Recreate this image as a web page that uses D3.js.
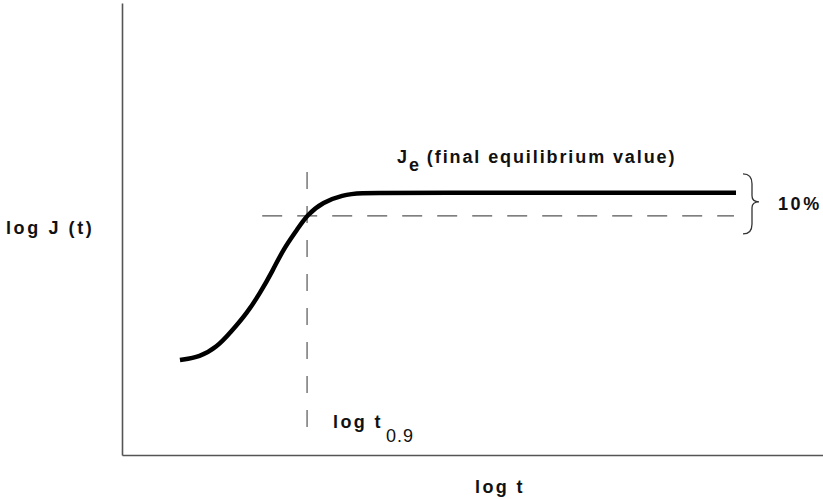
<!DOCTYPE html>
<html>
<head>
<meta charset="utf-8">
<script src="https://cdn.jsdelivr.net/npm/d3@7"></script>
<style>
  html, body { margin: 0; padding: 0; background: #fff; }
  svg { display: block; }
  text { font-family: "Liberation Sans", Arial, Helvetica, sans-serif; font-weight: bold; fill: #111; }
</style>
</head>
<body>
<svg id="chart" width="823" height="499"></svg>
<script>
// ---- data (arbitrary log units) ----
const curveX = [8.27, 11.13, 13.55, 15.41, 17.83, 19.69, 21.54, 22.97, 24.96, 26.39, 28.67, 31.53, 33.67, 39.66, 87.59];
const curveY = [21.0, 21.7, 23.9, 27.0, 31.4, 35.8, 40.9, 45.4, 49.8, 53.1, 56.0, 57.5, 58.0, 58.0, 58.0];
const t09 = 26.4;          // log t0.9
const J09 = 52.9;          // 90% level
const Je = 58.0;           // final equilibrium value
const hDashX = [20.0, 87.3];
const vDashY = [5.1, 62.6];
const labels = {
  yTitle: "log J (t)",
  xTitle: "log t",
  je: "J",
  jeSub: "e",
  jeText: "(final equilibrium value)",
  t09: "log t",
  t09Sub: "0.9",
  pct: "10%"
};

const svg = d3.select("#chart");
const x = d3.scaleLinear().domain([0, 100]).range([122, 823]);
const y = d3.scaleLinear().domain([0, 100]).range([455, 3]);

// axes (no ticks)
svg.append("g").attr("transform", `translate(0,${y(0)})`)
  .call(d3.axisBottom(x).ticks(0).tickSizeOuter(0))
  .select(".domain").attr("stroke", "#555").attr("stroke-width", 1.6);
svg.append("g").attr("transform", `translate(${x(0)},0)`)
  .call(d3.axisLeft(y).ticks(0).tickSizeOuter(0))
  .select(".domain").attr("stroke", "#555").attr("stroke-width", 1.6);

// dashed guide lines
svg.append("line")
  .attr("x1", x(hDashX[0])).attr("x2", x(hDashX[1]))
  .attr("y1", y(J09)).attr("y2", y(J09))
  .attr("stroke", "#555").attr("stroke-width", 1.2)
  .attr("stroke-dasharray", "20 15");
svg.append("line")
  .attr("x1", x(t09)).attr("x2", x(t09))
  .attr("y1", y(vDashY[1])).attr("y2", y(vDashY[0]))
  .attr("stroke", "#555").attr("stroke-width", 1.2)
  .attr("stroke-dasharray", "17 17");

// creep curve
const pts = curveX.map((d, i) => [d, curveY[i]]);
svg.append("path")
  .datum(pts)
  .attr("fill", "none")
  .attr("stroke", "#000")
  .attr("stroke-width", 4.5)
  .attr("stroke-linecap", "butt")
  .attr("d", d3.line().x(d => x(d[0])).y(d => y(d[1])).curve(d3.curveBasis));

// brace
const bx = 743, bTop = y(Je) - 19, bBot = y(J09) + 18, bMid = (bTop + bBot) / 2 - 2;
svg.append("path")
  .attr("fill", "none").attr("stroke", "#333").attr("stroke-width", 1.3)
  .attr("d", `M${bx},${bTop} Q${bx + 9},${bTop} ${bx + 9},${bTop + 10} L${bx + 9},${bMid - 6} Q${bx + 9},${bMid} ${bx + 16},${bMid}` +
             ` Q${bx + 9},${bMid} ${bx + 9},${bMid + 6} L${bx + 9},${bBot - 10} Q${bx + 9},${bBot} ${bx},${bBot}`);

// labels
svg.append("text").attr("x", 6).attr("y", 234).attr("font-size", 18).attr("letter-spacing", 2.6).text(labels.yTitle);
svg.append("text").attr("x", 475).attr("y", 493).attr("font-size", 18).attr("letter-spacing", 2.4).text(labels.xTitle);

const je = svg.append("text").attr("x", 397).attr("y", 163).attr("font-size", 18).attr("letter-spacing", 1.9);
je.append("tspan").text(labels.je);
je.append("tspan").attr("dy", 8).text(labels.jeSub);
je.append("tspan").attr("dy", -8).attr("dx", 6).text(labels.jeText);

const tl = svg.append("text").attr("x", 333).attr("y", 428).attr("font-size", 18).attr("letter-spacing", 2.4);
tl.append("tspan").text(labels.t09);
tl.append("tspan").attr("dy", 14).attr("dx", 3).attr("font-weight", "normal").attr("font-size", 18).attr("letter-spacing", 1).text(labels.t09Sub);

svg.append("text").attr("x", 778).attr("y", 210).attr("font-size", 18).attr("letter-spacing", 2.6).text(labels.pct);
</script>
</body>
</html>
